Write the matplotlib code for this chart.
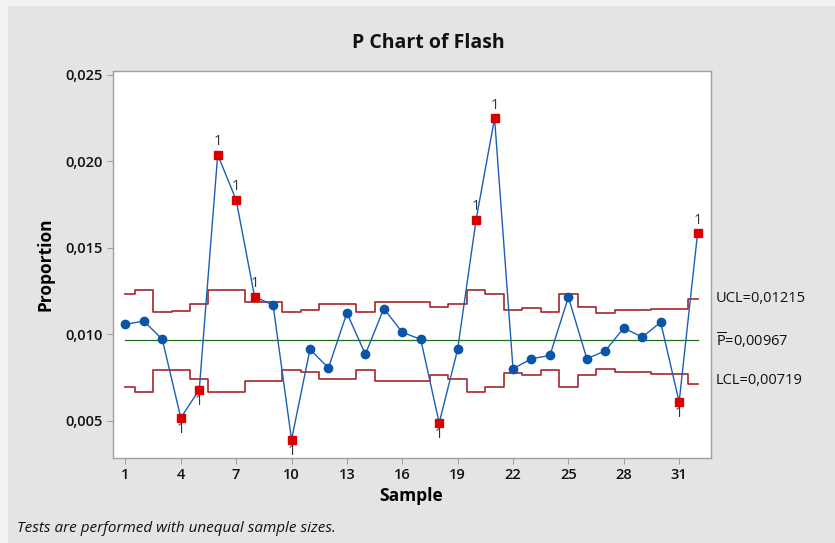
import matplotlib
matplotlib.use("Agg")
import matplotlib.pyplot as plt
from matplotlib.ticker import FuncFormatter, FixedLocator
from matplotlib.patches import Rectangle
import numpy as np

plt.rcParams['font.family'] = ['Open Sans', 'DejaVu Sans']
plt.rcParams['mathtext.fontset'] = 'custom'
plt.rcParams['mathtext.rm'] = 'Open Sans'

samples = list(range(1, 33))
proportion = [0.01058, 0.01077, 0.00971, 0.00517, 0.00680, 0.02039, 0.01777, 0.01217,
              0.01170, 0.00391, 0.00913, 0.00806, 0.01124, 0.00885, 0.01149, 0.01012,
              0.00971, 0.00488, 0.00913, 0.01663, 0.02250, 0.00801, 0.00859, 0.00878,
              0.01215, 0.00859, 0.00905, 0.01037, 0.00984, 0.01070, 0.00609, 0.01585]
ucl = [0.01231, 0.01254, 0.01128, 0.01134, 0.01176, 0.01254, 0.01254, 0.01190,
       0.01186, 0.01128, 0.01140, 0.01176, 0.01176, 0.01128, 0.01188, 0.01188,
       0.01188, 0.01157, 0.01176, 0.01254, 0.01231, 0.01143, 0.01155, 0.01130,
       0.01231, 0.01157, 0.01124, 0.01142, 0.01142, 0.01149, 0.01149, 0.01207]
lcl = [0.00694, 0.00669, 0.00795, 0.00795, 0.00742, 0.00669, 0.00669, 0.00729,
       0.00729, 0.00795, 0.00781, 0.00740, 0.00740, 0.00795, 0.00729, 0.00729,
       0.00729, 0.00763, 0.00742, 0.00669, 0.00694, 0.00777, 0.00765, 0.00795,
       0.00694, 0.00765, 0.00798, 0.00781, 0.00781, 0.00771, 0.00771, 0.00713]
pbar = 0.00967
flagged = [4, 5, 6, 7, 8, 10, 18, 20, 21, 31, 32]
xticks = [1, 4, 7, 10, 13, 16, 19, 22, 25, 28, 31]
yticks = [0.005, 0.010, 0.015, 0.020, 0.025]

fig = plt.figure(figsize=(8.35, 5.43), dpi=100, facecolor='#f2f2f2')
fig.patches.append(Rectangle((8/835, 0), 1, 1 - 6/543, transform=fig.transFigure,
                             facecolor='#e4e4e4', edgecolor='none', zorder=-10))

ax = fig.add_axes([112.5/835, (543-458)/543, 598/835, 387/543])
ax.set_facecolor('white')
for s in ax.spines.values():
    s.set_color('#a0a0a0')
    s.set_linewidth(1.0)

x = np.array(samples)
ax.step(x, ucl, where='mid', color='#a3282c', lw=1.2, zorder=2)
ax.step(x, lcl, where='mid', color='#a3282c', lw=1.2, zorder=2)
ax.plot([samples[0], samples[-1]], [pbar, pbar], color='#1f6e1f', lw=0.9, zorder=2)

ax.plot(x, proportion, color='#1a5fb4', lw=1.0, zorder=3)
normal = [i for i in samples if i not in flagged]
ax.plot(normal, [proportion[i-1] for i in normal], 'o', color='#0b55a8',
        markersize=6, zorder=4, linestyle='none')
ax.plot(flagged, [proportion[i-1] for i in flagged], 's', color='#d90000',
        markersize=6, zorder=5, linestyle='none')

for i in flagged:
    v = proportion[i-1]
    if v > ucl[i-1]:
        dy = 4
        va = 'bottom'
    else:
        dy = -3
        va = 'top'
    ax.annotate('1', (i, v), xytext=(0, dy), textcoords='offset points',
                ha='center', va=va, fontsize=10.5, color='#333333', zorder=6)

ax.set_xlim(0.3, 32.7)
ax.set_ylim(0.00285, 0.02523)
ax.xaxis.set_major_locator(FixedLocator(xticks))
ax.yaxis.set_major_locator(FixedLocator(yticks))
ax.yaxis.set_major_formatter(FuncFormatter(lambda v, p: f"{v:.3f}".replace('.', ',')))
ax.tick_params(axis='both', direction='out', length=4, color='#a0a0a0',
               labelsize=10.5, labelcolor='#111111', pad=3)
for lab in ax.get_xticklabels() + ax.get_yticklabels():
    lab.set_fontweight('semibold')

ax.set_xlabel('Sample', fontsize=12.5, fontweight='bold', labelpad=4)
ax.set_ylabel('Proportion', fontsize=12.5, fontweight='bold', labelpad=8)

fig.text(428/835, 1 - 43/543, 'P Chart of Flash', ha='center', va='center',
         fontsize=14, fontweight='bold', color='#111111')

fig.text(716/835, 1 - 298/543, 'UCL=0,01215', ha='left', va='center', fontsize=10.5, color='#111111')
fig.text(716/835, 1 - 340/543, r'$\overline{\mathrm{P}}$=0,00967', ha='left', va='center', fontsize=10.5, color='#111111')
fig.text(716/835, 1 - 381/543, 'LCL=0,00719', ha='left', va='center', fontsize=10.5, color='#111111')

fig.text(17/835, 1 - 528/543, 'Tests are performed with unequal sample sizes.',
         ha='left', va='center', fontsize=11, fontstyle='italic', color='#111111')

fig.savefig('out.png', dpi=100, facecolor=fig.get_facecolor())
